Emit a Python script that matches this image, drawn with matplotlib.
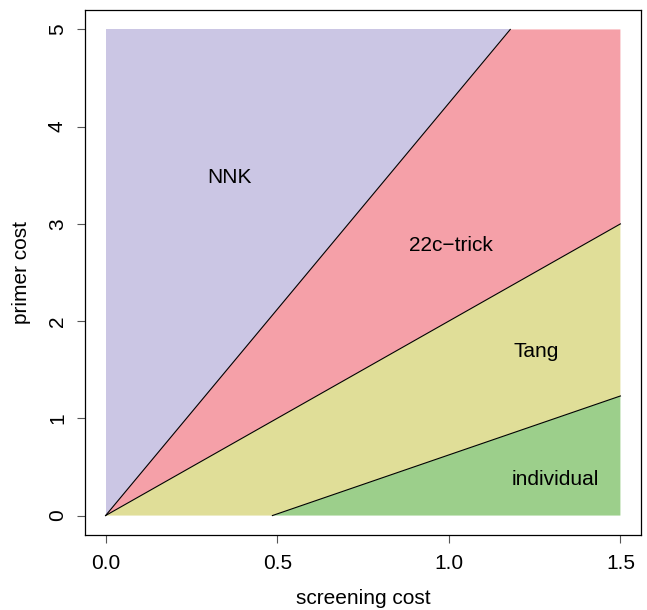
import matplotlib
matplotlib.use("Agg")
import matplotlib.pyplot as plt

# Region boundaries in (screening cost, primer cost) space
x_min, x_max = 0.0, 1.5
y_min, y_max = 0.0, 5.0
nnk_edge_x = [0.0, 1.179]        # NNK / 22c-trick boundary
nnk_edge_y = [0.0, 5.0]
trick_edge_x = [0.0, 1.5]        # 22c-trick / Tang boundary
trick_edge_y = [0.0, 3.0]
tang_edge_x = [0.486, 1.5]       # Tang / individual boundary
tang_edge_y = [0.0, 1.23]

region_names = ["NNK", "22c\u2212trick", "Tang", "individual"]
label_x = [0.36, 1.005, 1.255, 1.31]
label_y = [3.48, 2.78, 1.69, 0.37]
region_colors = ["#cbc6e4", "#f5a0a8", "#e0de98", "#9ccf8b"]

x_ticks = [0.0, 0.5, 1.0, 1.5]
x_tick_labels = ["0.0", "0.5", "1.0", "1.5"]
y_ticks = [0, 1, 2, 3, 4, 5]

plt.rcParams["font.family"] = ["Liberation Sans", "DejaVu Sans"]
FS = 15

fig = plt.figure(figsize=(6.47, 6.10), dpi=100)
ax = fig.add_axes([85 / 647, 1 - 535 / 610, (641 - 85) / 647, (535 - 10) / 610])

polys = [
    [(x_min, y_min), (x_min, y_max), (nnk_edge_x[1], nnk_edge_y[1])],
    [(x_min, y_min), (nnk_edge_x[1], nnk_edge_y[1]), (x_max, y_max),
     (trick_edge_x[1], trick_edge_y[1])],
    [(x_min, y_min), (trick_edge_x[1], trick_edge_y[1]),
     (tang_edge_x[1], tang_edge_y[1]), (tang_edge_x[0], tang_edge_y[0])],
    [(tang_edge_x[0], tang_edge_y[0]), (tang_edge_x[1], tang_edge_y[1]),
     (x_max, y_min)],
]
for pts, col in zip(polys, region_colors):
    xs, ys = zip(*pts)
    ax.fill(xs, ys, color=col, lw=0)

for ex, ey in [(nnk_edge_x, nnk_edge_y), (trick_edge_x, trick_edge_y),
               (tang_edge_x, tang_edge_y)]:
    ax.plot(ex, ey, color="black", lw=0.8)

for name, lx, ly in zip(region_names, label_x, label_y):
    ax.text(lx, ly, name, ha="center", va="center", fontsize=FS)

xr = x_max - x_min
yr = y_max - y_min
ax.set_xlim(x_min - 0.04 * xr, x_max + 0.04 * xr)
ax.set_ylim(y_min - 0.04 * yr, y_max + 0.04 * yr)

ax.set_xticks(x_ticks)
ax.set_xticklabels(x_tick_labels)
ax.set_yticks(y_ticks)
ax.set_yticklabels([str(v) for v in y_ticks], rotation=90, va="center")
ax.tick_params(direction="out", length=6, width=0.8, color="#555555",
               labelsize=FS, pad=8)
ax.tick_params(axis="y", pad=7)
for s in ax.spines.values():
    s.set_linewidth(0.9)

ax.set_xlabel("screening cost", fontsize=FS, labelpad=11)
ax.set_ylabel("primer cost", fontsize=FS, labelpad=12)

fig.savefig("out.png", dpi=100)
